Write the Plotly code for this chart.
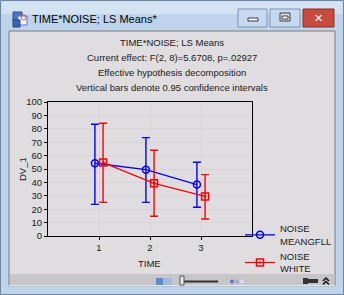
import plotly.graph_objects as go

# ---- data ----
time_levels = [1, 2, 3]
time_labels = ["1", "2", "3"]
series_names = ["NOISE<br>MEANGFLL", "NOISE<br>WHITE"]
mean_meangfll = [54.3, 49.5, 38.4]
upper_meangfll = [83.4, 73.4, 55.0]
lower_meangfll = [23.6, 25.1, 21.4]
mean_white = [54.8, 39.3, 29.5]
upper_white = [84.1, 64.0, 45.8]
lower_white = [25.1, 14.7, 12.7]

W, H = 344, 295
L, R, T, B = 48, 92, 102, 59
PW, PH = W - L - R, H - T - B


def px(x):
    return (x - L) / PW


def py(y):
    return (H - B - y) / PH


BLUE = "#0000FF"
RED = "#FF0000"
offset = 0.08

fig = go.Figure()
for name, mean, up, lo, col, sym, dx in [
    (series_names[0], mean_meangfll, upper_meangfll, lower_meangfll, BLUE, "circle-open", -offset),
    (series_names[1], mean_white, upper_white, lower_white, RED, "square-open-dot", offset),
]:
    fig.add_trace(go.Scatter(
        x=[t + dx for t in time_levels], y=mean, name=name,
        mode="lines+markers",
        line=dict(color=col, width=1.3),
        marker=dict(symbol=sym, size=7, color=col, line=dict(width=1.5, color=col)),
        error_y=dict(type="data", symmetric=False,
                     array=[u - m for u, m in zip(up, mean)],
                     arrayminus=[m - l for m, l in zip(mean, lo)],
                     color=col, thickness=1.4, width=4),
    ))

FONT = "Liberation Sans, Arial, sans-serif"
FS = 9.5
shapes = []
annos = []


def rect(x0, y0, x1, y1, fill, line=None, lw=1, layer="below"):
    shapes.append(dict(type="rect", xref="paper", yref="paper",
                       x0=px(x0), x1=px(x1), y0=py(y0), y1=py(y1),
                       fillcolor=fill, line=dict(color=line or fill, width=lw if line else 0),
                       layer=layer))


def hline(x0, x1, y, color, w=1, layer="below"):
    shapes.append(dict(type="line", xref="paper", yref="paper",
                       x0=px(x0), x1=px(x1), y0=py(y), y1=py(y),
                       line=dict(color=color, width=w), layer=layer))


def chevron(cx, cy, color="#111111"):
    p = "M {} {} L {} {} L {} {}".format(px(cx - 3), py(cy + 2), px(cx), py(cy - 1),
                                          px(cx + 3), py(cy + 2))
    shapes.append(dict(type="path", xref="paper", yref="paper", path=p,
                       line=dict(color=color, width=1.5), layer="below"))


def text(x, y, s, size=FS, color="#1a1a1a", xanchor="center", angle=0, font=FONT):
    annos.append(dict(xref="paper", yref="paper", x=px(x), y=py(y), text=s,
                      showarrow=False, xanchor=xanchor, yanchor="middle",
                      textangle=angle, font=dict(family=font, size=size, color=color)))


# window frame
rect(0.5, 0.5, 343.5, 294.5, "#BDD4EC", "#6F86A3", 1)
rect(1.5, 1.5, 342.5, 14, "#D3E3F4")
# client area
rect(9, 31, 335, 286, "#DFDDDF", "#7A7A7A", 1)
rect(10, 274, 334.5, 285, "#C7C5C7")
hline(9, 335, 285.8, "#FFFFFF", 1)
# title icon
rect(13, 12, 22, 21, "#4A78C8", "#2B4F8F", 1)
rect(18, 16, 27, 25, "#F4F4F4", "#5A7FB8", 1)
rect(13, 20, 20, 27, "#3A66B5", "#23467F", 1)
shapes.append(dict(type="circle", xref="paper", yref="paper", x0=px(21), x1=px(26),
                   y0=py(15), y1=py(20), line=dict(color="#E05050", width=1), layer="below"))
text(30, 18.5, "TIME*NOISE; LS Means*", size=11, color="#000000", xanchor="left")
# buttons
rect(238, 9, 267, 27, "#C6D9EF", "#7B93B3", 1)
rect(248, 18, 258, 21, "#FFFFFF", "#3B3B3B", 1)
rect(270, 9, 300, 27, "#C6D9EF", "#7B93B3", 1)
rect(280, 13, 290, 21, "#D6E3F2", "#3B3B3B", 1)
rect(282, 16, 288, 19, "#FFFFFF", "#3B3B3B", 1)
rect(303, 9, 334, 27, "#C94B3E", "#8B2C22", 1)
text(318.5, 18, "<b>✕</b>", size=11, color="#FFFFFF", font="DejaVu Sans")
# status bar widgets
rect(156, 278, 172, 285, "#9DBBE3")
rect(156, 278, 163, 285, "#5F8BCB")
hline(184, 218, 281.5, "#333333", 2)
rect(180, 276, 184, 285, "#E8E8E8", "#555555", 1)
for cx, c in [(232, "#4A7BC0"), (237, "#8FB0DA"), (242, "#D5E2F2")]:
    shapes.append(dict(type="circle", xref="paper", yref="paper", x0=px(cx - 2), x1=px(cx + 2),
                       y0=py(279.5), y1=py(283.5), fillcolor=c, line=dict(width=0), layer="below"))
rect(306, 279, 318, 283, "#333333")
rect(303, 278, 308, 284, "#333333")
chevron(326, 279)
chevron(326, 282.5)

# chart titles
text(172, 43, "TIME*NOISE; LS Means")
text(172, 57.5, "Current effect: F(2, 8)=5.6708, p=.02927")
text(172, 72.5, "Effective hypothesis decomposition")
text(172, 87.5, "Vertical bars denote 0.95 confidence intervals")
text(22, 169, "DV_1", angle=-90)
text(149, 263, "TIME")

fig.update_layout(
    width=W, height=H,
    margin=dict(l=L, r=R, t=T, b=B, autoexpand=False),
    paper_bgcolor="#BDD4EC",
    plot_bgcolor="#FFFFFF",
    shapes=shapes, annotations=annos,
    showlegend=True,
    legend=dict(x=px(240), y=py(216), xanchor="left", yanchor="top",
                bgcolor="rgba(0,0,0,0)", itemwidth=30, tracegroupgap=0,
                font=dict(family=FONT, size=FS, color="#1a1a1a")),
    xaxis=dict(range=[0, 4], tickvals=time_levels, ticktext=time_labels,
               showgrid=True, gridcolor="#D6D6D6", gridwidth=1,
               showline=True, linecolor="#000000", linewidth=1, mirror=True,
               ticks="outside", ticklen=3, tickcolor="#000000",
               zeroline=False, tickfont=dict(family=FONT, size=FS, color="#1a1a1a")),
    yaxis=dict(range=[0, 100], dtick=10,
               showgrid=True, gridcolor="#D6D6D6", gridwidth=1,
               showline=True, linecolor="#000000", linewidth=1, mirror=True,
               ticks="outside", ticklen=3, tickcolor="#000000",
               zeroline=False, tickfont=dict(family=FONT, size=FS, color="#1a1a1a")),
)

fig.write_html("out.html")
